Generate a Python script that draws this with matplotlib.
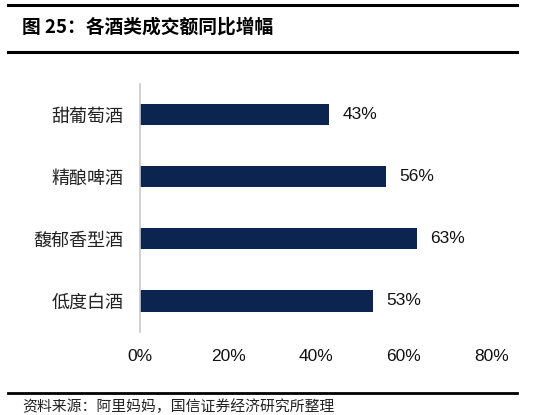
from matplotlib import pyplot as plt
from matplotlib.lines import Line2D

plt.rcParams['font.family'] = ['Noto Sans CJK SC', 'DejaVu Sans']

# data, top to bottom as shown
categories = ['甜葡萄酒', '精酿啤酒', '馥郁香型酒', '低度白酒']
growth = [0.43, 0.56, 0.63, 0.53]
xticks = [0, 0.2, 0.4, 0.6, 0.8]
xtick_labels = ['0%', '20%', '40%', '60%', '80%']

title = '图 25：各酒类成交额同比增幅'
source = '资料来源：阿里妈妈，国信证券经济研究所整理'

bar_color = '#0b2550'

fig = plt.figure(figsize=(5.43, 4.15), dpi=100)
ax = fig.add_axes([0.258, 0.20, 0.648, 0.598])

ypos = list(range(len(categories)))[::-1]
ax.barh(ypos, growth, height=0.34, color=bar_color)
for y, v in zip(ypos, growth):
    ax.text(v + 0.03, y, f"{round(v*100)}%", va='center', ha='left',
            fontsize=12.5, family='Liberation Sans', color='#111111')

ax.set_xlim(0, 0.8)
ax.set_ylim(-0.5, len(categories) - 0.5)
ax.set_yticks(ypos)
ax.set_yticklabels(categories, fontsize=13, color='#222222')
ax.set_xticks(xticks)
ax.set_xticklabels(xtick_labels, fontsize=12.5, family='Liberation Sans', color='#111111')
ax.tick_params(axis='both', length=0)
ax.tick_params(axis='y', pad=12)
ax.tick_params(axis='x', pad=12)
for s in ['top', 'right', 'bottom']:
    ax.spines[s].set_visible(False)
ax.spines['left'].set_color('#c8c8c8')
ax.spines['left'].set_linewidth(1.2)

# header / footer rules and texts
fig.add_artist(Line2D([0.015, 0.952], [0.989, 0.989], color='black', lw=2.2, transform=fig.transFigure))
fig.add_artist(Line2D([0.015, 0.952], [0.874, 0.874], color='black', lw=2.2, transform=fig.transFigure))
fig.add_artist(Line2D([0.015, 0.952], [0.053, 0.053], color='black', lw=2.0, transform=fig.transFigure))
fig.text(0.040, 0.934, title, fontsize=13.5, fontweight='bold', va='center', ha='left')
fig.text(0.040, 0.020, source, fontsize=10.7, va='center', ha='left', color='#222222')

plt.savefig('out.png', dpi=100)
